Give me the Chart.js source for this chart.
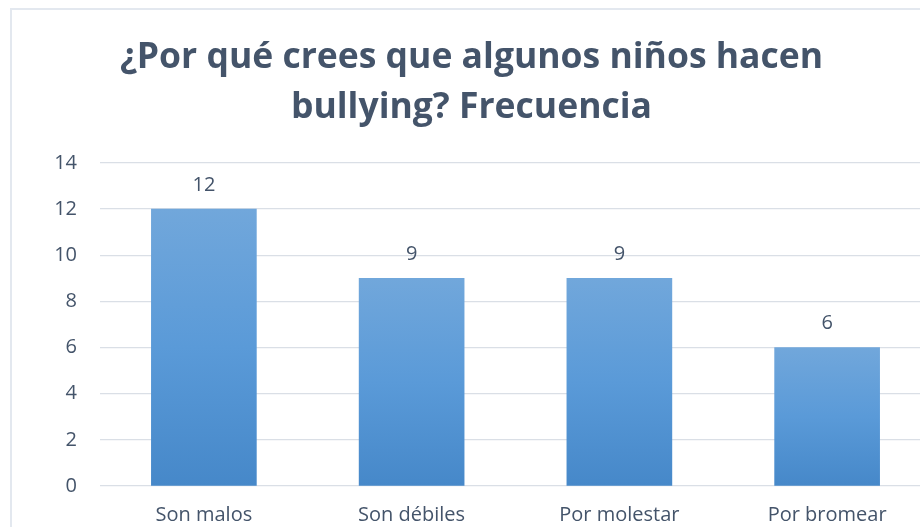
<!DOCTYPE html>
<html lang="es">
<head>
    <meta charset="UTF-8">
    <title>¿Por qué crees que algunos niños hacen bullying?</title>
    <script src="https://cdn.jsdelivr.net/npm/chart.js"></script>
    <style>
        html, body { margin: 0; padding: 0; background: #fff; }
        body { width: 920px; height: 527px; overflow: hidden; position: relative; }
        .marco {
            position: absolute; left: 10px; top: 8px;
            width: 940px; height: 600px;
            border: 2px solid #e3e8ef;
        }
        .grafica { position: absolute; left: 12px; top: 10px; width: 920px; height: 560px; }
    </style>
</head>
<body>
    <div class="marco"></div>
    <div class="grafica"><canvas id="miGrafica"></canvas></div>

    <script>
        // datos
        const categorias = ['Son malos', 'Son débiles', 'Por molestar', 'Por bromear'];
        const frecuencia = [12, 9, 9, 6];
        const tituloLineas = ['¿Por qué crees que algunos niños hacen', 'bullying? Frecuencia'];
        const ejeYMin = 0, ejeYMax = 14, ejeYPaso = 2;

        const colorTexto = '#44546a';
        const fuente = "'Open Sans', 'Noto Sans', sans-serif";

        // etiquetas de valor encima de cada barra
        const etiquetasValor = {
            id: 'etiquetasValor',
            afterDatasetsDraw(chart) {
                const ctx = chart.ctx;
                const meta = chart.getDatasetMeta(0);
                ctx.save();
                ctx.font = '20px ' + fuente;
                ctx.fillStyle = colorTexto;
                ctx.textAlign = 'center';
                ctx.textBaseline = 'middle';
                meta.data.forEach((barra, i) => {
                    ctx.fillText(frecuencia[i], barra.x, barra.y - 24);
                });
                ctx.restore();
            }
        };

        function degradado(context) {
            const chart = context.chart;
            if (!chart.chartArea || !chart.scales.y) return '#5b9bd5';
            const y = chart.scales.y;
            const arriba = y.getPixelForValue(context.raw);
            const abajo = y.getPixelForValue(0);
            const g = chart.ctx.createLinearGradient(0, arriba, 0, abajo);
            g.addColorStop(0, '#71a7db');
            g.addColorStop(0.5, '#5a9ad8');
            g.addColorStop(1, '#4688c9');
            return g;
        }

        const ctx = document.getElementById('miGrafica').getContext('2d');
        const chart = new Chart(ctx, {
            type: 'bar',
            data: {
                labels: categorias,
                datasets: [{
                    label: 'Frecuencia',
                    data: frecuencia,
                    backgroundColor: degradado,
                    borderWidth: 0,
                    barThickness: 105
                }]
            },
            options: {
                responsive: true,
                maintainAspectRatio: false,
                animation: false,
                layout: { padding: { left: 0, right: 1, top: 0, bottom: 0 } },
                plugins: {
                    legend: { display: false },
                    tooltip: { enabled: false },
                    title: {
                        display: true,
                        text: tituloLineas,
                        color: colorTexto,
                        font: { family: fuente, size: 35.5, weight: 'bold', lineHeight: 1.408 },
                        padding: { top: 23, bottom: 30 }
                    }
                },
                scales: {
                    x: {
                        grid: { display: false, drawTicks: false },
                        border: { display: false },
                        ticks: { color: colorTexto, font: { family: fuente, size: 20 }, padding: 17 },
                        afterFit(scale) { scale.height = 84; }
                    },
                    y: {
                        min: ejeYMin,
                        max: ejeYMax,
                        grid: { color: '#dadfe6', lineWidth: 1.3, drawTicks: false },
                        border: { display: false },
                        ticks: {
                            stepSize: ejeYPaso,
                            color: colorTexto,
                            font: { family: fuente, size: 20 },
                            padding: 23
                        },
                        afterFit(scale) { scale.width = 88; }
                    }
                }
            },
            plugins: [etiquetasValor]
        });
    </script>
</body>
</html>
